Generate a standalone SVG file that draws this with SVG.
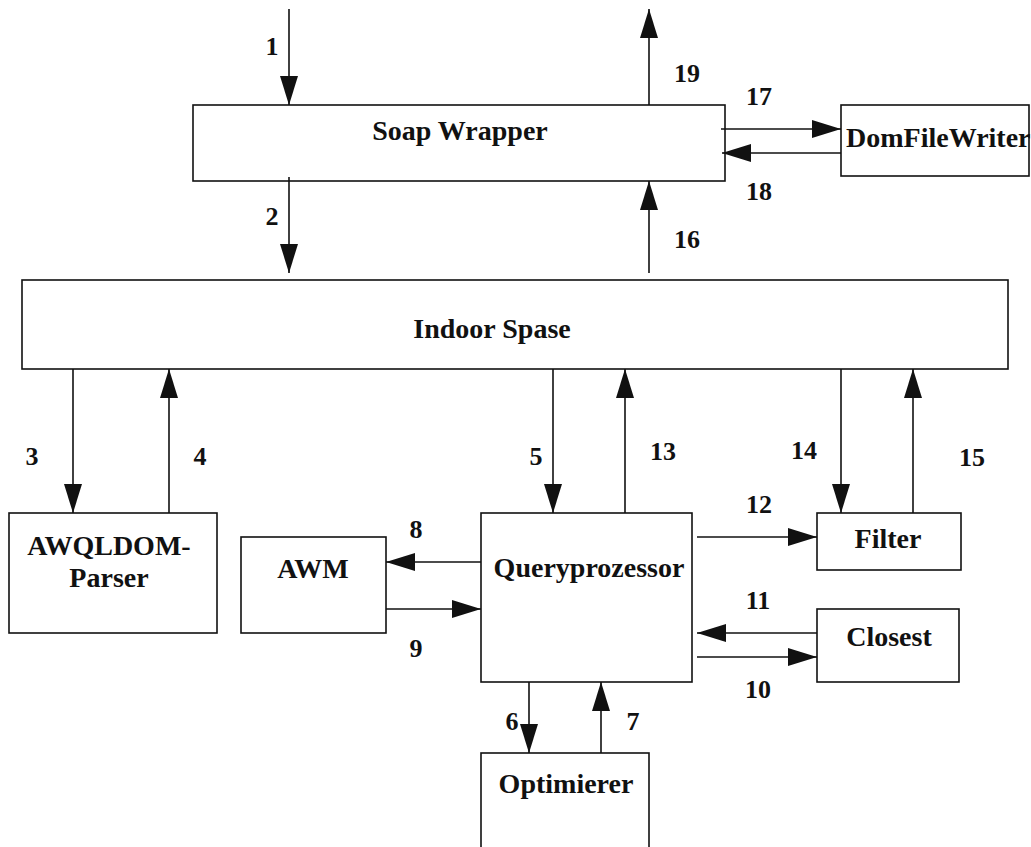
<svg xmlns="http://www.w3.org/2000/svg" width="1031" height="847" viewBox="0 0 1031 847">
<style>
.box{fill:#fff;stroke:#111;stroke-width:1.6}
.t{font-family:"Liberation Serif",serif;font-weight:bold;font-size:28px;fill:#111}
.n{font-family:"Liberation Serif",serif;font-weight:bold;font-size:26px;fill:#111}
.c{stroke:#111;stroke-width:1.6;fill:none;marker-end:url(#ah)}
</style>
<defs>
<marker id="ah" markerUnits="userSpaceOnUse" markerWidth="30" markerHeight="18" refX="29" refY="9" orient="auto" viewBox="0 0 30 18">
<path d="M0,0 L29,9 L0,18 z" fill="#111"/>
</marker>
</defs>
<rect width="1031" height="847" fill="#fff"/>
<g id="soap-wrapper"><rect class="box" x="193" y="105" width="532" height="76"/><text class="t" x="460" y="140" text-anchor="middle">Soap Wrapper</text></g>
<g id="domfilewriter"><rect class="box" x="841" y="105" width="188" height="71"/><text class="t" x="846" y="147">DomFileWriter</text></g>
<g id="indoor-spase"><rect class="box" x="22" y="280" width="986" height="89"/><text class="t" x="492" y="338" text-anchor="middle">Indoor Spase</text></g>
<g id="awqldom-parser"><rect class="box" x="9" y="513" width="208" height="120"/><text class="t" x="109" y="555" text-anchor="middle">AWQLDOM-</text><text class="t" x="109" y="587" text-anchor="middle">Parser</text></g>
<g id="awm"><rect class="box" x="241" y="537" width="145" height="96"/><text class="t" x="313" y="578" text-anchor="middle">AWM</text></g>
<g id="queryprozessor"><rect class="box" x="481" y="513" width="211" height="169"/><text class="t" x="589" y="577" text-anchor="middle">Queryprozessor</text></g>
<g id="filter"><rect class="box" x="817" y="513" width="144" height="57"/><text class="t" x="888" y="548" text-anchor="middle">Filter</text></g>
<g id="closest"><rect class="box" x="817" y="609" width="142" height="73"/><text class="t" x="889" y="646" text-anchor="middle">Closest</text></g>
<g id="optimierer"><rect class="box" x="481" y="753" width="168" height="110"/><text class="t" x="566" y="793" text-anchor="middle">Optimierer</text></g>
<g id="connectors">
<line class="c" x1="289" y1="9" x2="289" y2="105"/>
<line class="c" x1="649" y1="105" x2="649" y2="9"/>
<line class="c" x1="721" y1="129" x2="841" y2="129"/>
<line class="c" x1="841" y1="153" x2="722" y2="153"/>
<line class="c" x1="289" y1="177" x2="289" y2="273"/>
<line class="c" x1="649" y1="273" x2="649" y2="181"/>
<line class="c" x1="73" y1="369" x2="73" y2="513"/>
<line class="c" x1="169" y1="513" x2="169" y2="369"/>
<line class="c" x1="553" y1="369" x2="553" y2="513"/>
<line class="c" x1="625" y1="513" x2="625" y2="369"/>
<line class="c" x1="841" y1="369" x2="841" y2="513"/>
<line class="c" x1="913" y1="513" x2="913" y2="369"/>
<line class="c" x1="481" y1="562" x2="386" y2="562"/>
<line class="c" x1="386" y1="609" x2="481" y2="609"/>
<line class="c" x1="697" y1="537" x2="817" y2="537"/>
<line class="c" x1="817" y1="633" x2="697" y2="633"/>
<line class="c" x1="697" y1="657" x2="817" y2="657"/>
<line class="c" x1="529" y1="682" x2="529" y2="753"/>
<line class="c" x1="601" y1="753" x2="601" y2="682"/>
<text class="n" x="272" y="55" text-anchor="middle">1</text>
<text class="n" x="687" y="82" text-anchor="middle">19</text>
<text class="n" x="759" y="105" text-anchor="middle">17</text>
<text class="n" x="759" y="200" text-anchor="middle">18</text>
<text class="n" x="272" y="225" text-anchor="middle">2</text>
<text class="n" x="687" y="248" text-anchor="middle">16</text>
<text class="n" x="32" y="465" text-anchor="middle">3</text>
<text class="n" x="200" y="465" text-anchor="middle">4</text>
<text class="n" x="536" y="465" text-anchor="middle">5</text>
<text class="n" x="663" y="460" text-anchor="middle">13</text>
<text class="n" x="804" y="459" text-anchor="middle">14</text>
<text class="n" x="972" y="466" text-anchor="middle">15</text>
<text class="n" x="759" y="513" text-anchor="middle">12</text>
<text class="n" x="416" y="538" text-anchor="middle">8</text>
<text class="n" x="416" y="657" text-anchor="middle">9</text>
<text class="n" x="758" y="609" text-anchor="middle">11</text>
<text class="n" x="758" y="698" text-anchor="middle">10</text>
<text class="n" x="512" y="730" text-anchor="middle">6</text>
<text class="n" x="633" y="730" text-anchor="middle">7</text>
</g>
</svg>
